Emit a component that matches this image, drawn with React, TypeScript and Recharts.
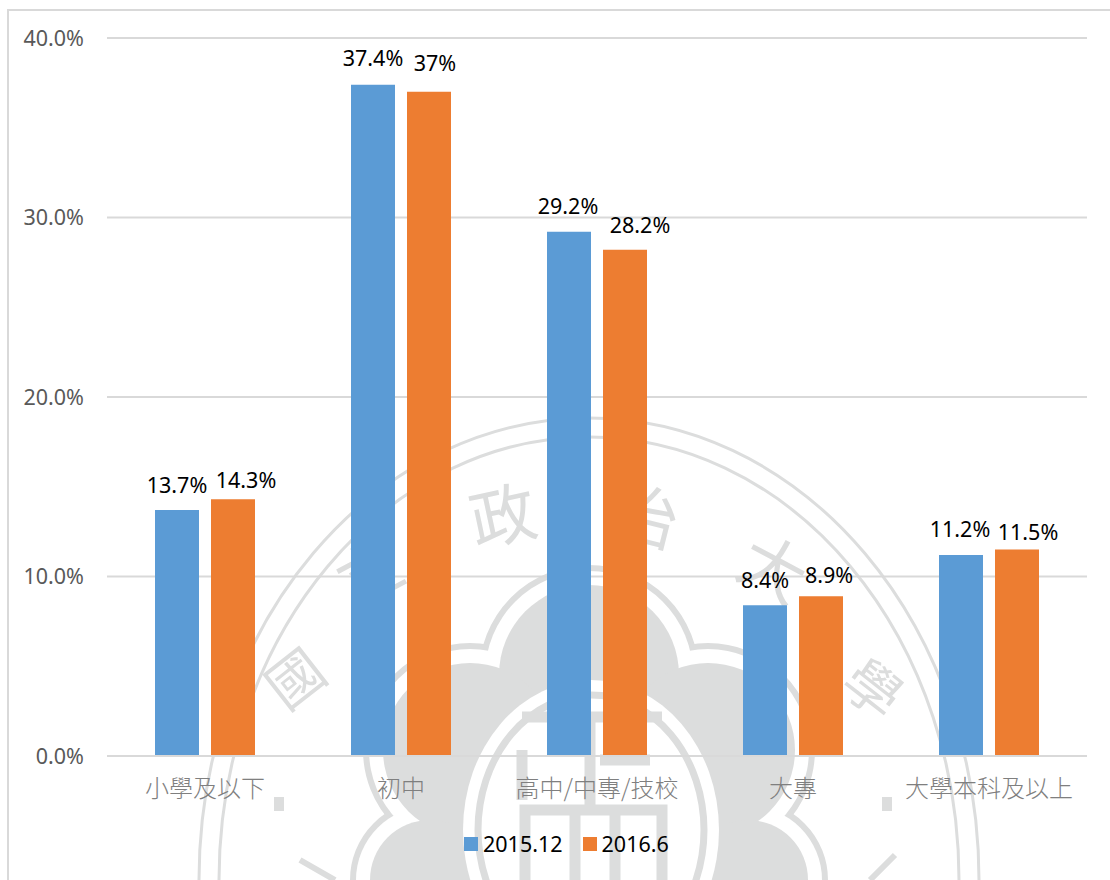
import React from 'react';
import { BarChart, Bar, XAxis, YAxis, CartesianGrid, Legend, LabelList } from 'recharts';

const categories = ['小學及以下', '初中', '高中/中專/技校', '大專', '大學本科及以上'];
const series2015 = [13.7, 37.4, 29.2, 8.4, 11.2];
const series2016 = [14.3, 37, 28.2, 8.9, 11.5];
const yTicks = [0, 10, 20, 30, 40];

// hand placed data labels, the original ones were dragged around a bit
const labelShift2015 = [[0, -26], [0, -27], [-1, -26], [0, -26], [-1, -26]];
const labelShift2016 = [[13, -20], [6, -29], [15, -25], [8, -22], [11, -18]];

const data = categories.map((name, i) => ({ name, a: series2015[i], b: series2016[i] }));

const FONT = '"Noto Sans", sans-serif';
const CJK = '"Noto Sans CJK TC", sans-serif';
const GRID = '#d9d9d9';
const MARK = '#dcdddd';

const makeLabel = (shift: number[][]) => (props: any) => {
    const { x, y, width, value, index } = props;
    const [dx, dy] = shift[index];
    return (
        <text x={x + width / 2 + dx} y={y + dy} textAnchor="middle" dominantBaseline="central"
            fontFamily={FONT} fontSize={21.5} fill="#000">
            {value}%
        </text>
    );
};

const CategoryTick = (props: any) => {
    const { x, y, payload } = props;
    return (
        <text x={x} y={y + 22} textAnchor="middle" dominantBaseline="central"
            fontFamily={CJK} fontWeight={300} fontSize={24} fill="#7f7f7f">
            {payload.value}
        </text>
    );
};

const LegendRow = ({ payload }: any) => (
    <div style={{ display: 'flex', alignItems: 'center', fontFamily: FONT, fontSize: 21.5, color: '#000' }}>
        {payload.map((item: any) => (
            <div key={item.value} style={{ display: 'flex', alignItems: 'center', marginRight: 20 }}>
                <span style={{ width: 14, height: 14, background: item.color, marginRight: 5 }} />
                <span>{item.value}</span>
            </div>
        ))}
    </div>
);

const lobes = [[589, 675, 90], [470, 750, 87], [708, 750, 87], [430, 880, 60], [748, 880, 60]];

const Stamp = () => (
    <svg width={1110} height={880} style={{ position: 'absolute', left: 0, top: 0 }}>
        <ellipse cx={589} cy={880} rx={390} ry={462} fill="none" stroke={MARK} strokeWidth={3} />
        <ellipse cx={589} cy={880} rx={370} ry={443} fill="none" stroke={MARK} strokeWidth={3} />
        {lobes.map(([cx, cy, r]) => (
            <circle key={cx + '-' + cy} cx={cx} cy={cy} r={r + 16} fill="#fff" stroke={MARK} strokeWidth={8} />
        ))}
        {lobes.map(([cx, cy, r]) => (
            <circle key={'w' + cx + '-' + cy} cx={cx} cy={cy} r={r + 14} fill="#fff" />
        ))}
        <g fill={MARK}>
            {lobes.map(([cx, cy, r]) => (
                <circle key={'g' + cx + '-' + cy} cx={cx} cy={cy} r={r} />
            ))}
            <rect x={450} y={690} width={278} height={190} />
        </g>
        <ellipse cx={591} cy={830} rx={128} ry={150} fill="#fff" />
        <ellipse cx={591} cy={830} rx={113} ry={135} fill="none" stroke={MARK} strokeWidth={7} />
        <g stroke={MARK} strokeWidth={11} fill="none">
            <path d="M522 717H662M590 717V805M522 750V800M600 760H650M525 880V810H662V880M575 810V880M615 810V880" />
        </g>
        <g fontFamily={CJK} fontSize={66} fill={MARK} textAnchor="middle">
            <text transform="translate(508 540) rotate(-12)">政</text>
            <text transform="translate(640 540) rotate(14)">治</text>
            <text transform="translate(762 590) rotate(28)">大</text>
            <text transform="translate(380 595) rotate(-28)">立</text>
            <text transform="translate(308 695) rotate(-38)" fontSize={56}>國</text>
            <text transform="translate(860 705) rotate(38)" fontSize={56}>學</text>
        </g>
        <rect x={274} y={797} width={10} height={14} fill={MARK} />
        <rect x={882} y={797} width={10} height={14} fill={MARK} />
        <path d="M300 860L335 880M870 880L895 855" stroke={MARK} strokeWidth={6} fill="none" />
    </svg>
);

const App = () => (
    <div style={{ position: 'absolute', left: 0, top: 0, width: 1110, height: 880, overflow: 'hidden', background: '#fff' }}>
        <Stamp />
        <div style={{ position: 'absolute', left: 7, top: 9, width: 1103, height: 871, borderLeft: `2px solid ${GRID}`, borderTop: `2px solid ${GRID}`, boxSizing: 'border-box' }} />
        <div style={{ position: 'absolute', left: 0, top: 0 }}>
            <BarChart width={1110} height={880} data={data} barSize={44} barGap={12}
                margin={{ top: 38, right: 23, bottom: 54, left: 0 }}>
                <CartesianGrid vertical={false} stroke={GRID} strokeWidth={2} />
                <XAxis dataKey="name" height={41} tick={<CategoryTick />} tickLine={false} interval={0}
                    axisLine={{ stroke: GRID, strokeWidth: 2 }} />
                <YAxis width={107} domain={[0, 40]} ticks={yTicks} tickLine={false} axisLine={false}
                    tickSize={0} tickMargin={23} tickFormatter={(v: number) => v.toFixed(1) + '%'}
                    tick={{ fontFamily: FONT, fontSize: 21.5, fill: '#595959' }} />
                <Legend content={<LegendRow />} align="left" verticalAlign="bottom" height={0}
                    wrapperStyle={{ left: 464, top: 829, width: 260 }} />
                <Bar dataKey="a" name="2015.12" fill="#5b9bd5" isAnimationActive={false}>
                    <LabelList dataKey="a" content={makeLabel(labelShift2015)} />
                </Bar>
                <Bar dataKey="b" name="2016.6" fill="#ed7d31" isAnimationActive={false}>
                    <LabelList dataKey="b" content={makeLabel(labelShift2016)} />
                </Bar>
            </BarChart>
        </div>
    </div>
);

export default App;
